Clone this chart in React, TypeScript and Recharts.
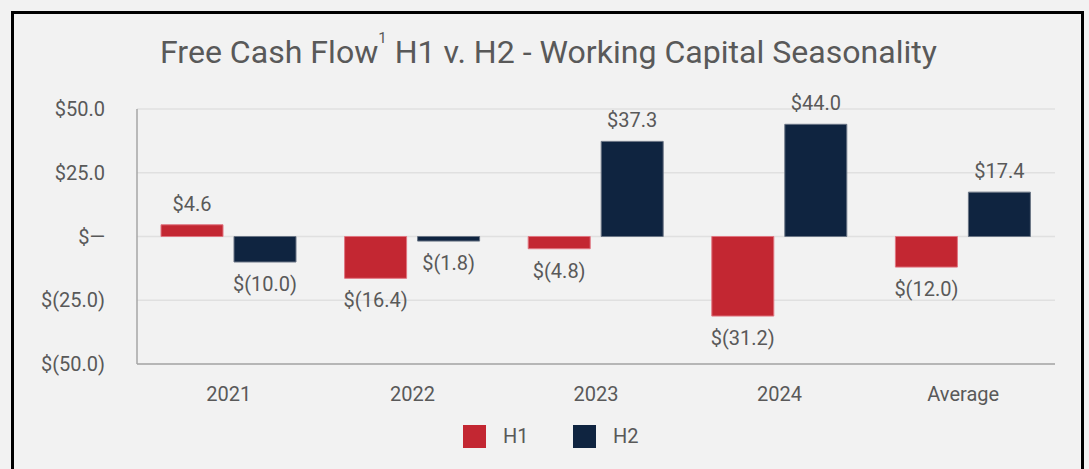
import React from "react";
import { BarChart, Bar, XAxis, YAxis, CartesianGrid, LabelList, Legend } from "recharts";

const categories = ["2021", "2022", "2023", "2024", "Average"];
const h1Values = [4.6, -16.4, -4.8, -31.2, -12.0];
const h2Values = [-10.0, -1.8, 37.3, 44.0, 17.4];
const yTicks = [-50, -25, 0, 25, 50];
const seriesNames = ["H1", "H2"];

const RED = "#c32732";
const NAVY = "#0f2440";
const GRAY = "#595959";
const FONT = "Roboto, 'Noto Sans', sans-serif";

const data = categories.map((c, i) => ({ name: c, H1: h1Values[i], H2: h2Values[i] }));

const fmt = (v: number) => {
  if (v === 0) return "$\u2014";
  const s = Math.abs(v).toFixed(1);
  return v < 0 ? `$(${s})` : `$${s}`;
};

const ValueLabel = (props: any) => {
  const { x, y, width, height, value } = props;
  const top = Math.min(y, y + height);
  const bottom = Math.max(y, y + height);
  const cx = x + width / 2;
  const ty = value >= 0 ? top - 14 : bottom + 29;
  return (
    <text x={cx} y={ty} textAnchor="middle" fill={GRAY} fontSize={20} fontFamily={FONT}>
      {fmt(value)}
    </text>
  );
};

const LegendContent = () => (
  <svg width={220} height={40}>
    <rect x={0} y={5} width={23} height={23} fill={RED} />
    <text x={40} y={23} fill={GRAY} fontSize={20} fontFamily={FONT}>{seriesNames[0]}</text>
    <rect x={110} y={5} width={23} height={23} fill={NAVY} />
    <text x={150} y={23} fill={GRAY} fontSize={20} fontFamily={FONT}>{seriesNames[1]}</text>
  </svg>
);

export default function App() {
  return (
    <div style={{ position: "fixed", left: 0, top: 0, width: 1089, height: 469, background: "#f2f2f2", overflow: "hidden" }}>
      <div
        style={{
          position: "absolute",
          left: 11,
          top: 11,
          width: 1073,
          height: 462,
          border: "3px solid #000",
          boxSizing: "border-box",
        }}
      />
      <svg width={1089} height={80} style={{ position: "absolute", left: 0, top: 0 }}>
        <text
          x={160}
          y={63}
          fill={GRAY}
          fontSize={32}
          fontFamily={FONT}
          textLength={777}
          lengthAdjust="spacingAndGlyphs"
        >
          Free Cash Flow
          <tspan fontSize={15} dy={-20}>1</tspan>
          <tspan dy={20}> H1 v. H2 - Working Capital Seasonality</tspan>
        </text>
      </svg>
      <div style={{ position: "absolute", left: 0, top: 0 }}>
        <BarChart
          width={1089}
          height={469}
          data={data}
          margin={{ top: 109, right: 34, left: 37, bottom: 75 }}
          barSize={62}
          barGap={11}
        >
          <CartesianGrid vertical={false} stroke="#e0e0e0" strokeWidth={1.5} />
          <XAxis
            dataKey="name"
            height={30}
            tickLine={false}
            tickSize={0}
            tickMargin={23}
            axisLine={{ stroke: "#a6a6a6", strokeWidth: 1.5 }}
            tick={{ fill: GRAY, fontSize: 20, fontFamily: FONT }}
          />
          <YAxis
            width={100}
            domain={[-50, 50]}
            ticks={yTicks}
            tickLine={false}
            tickSize={0}
            tickMargin={32}
            tickFormatter={fmt}
            axisLine={{ stroke: "#a6a6a6", strokeWidth: 1.5 }}
            tick={{ fill: GRAY, fontSize: 20, fontFamily: FONT }}
          />
          <Legend
            verticalAlign="middle"
            align="center"
            content={LegendContent}
            wrapperStyle={{ position: "absolute", left: 463, top: 420, width: 220, height: 40 }}
          />
          <Bar dataKey="H1" fill={RED} stroke="#e07580" strokeWidth={1} isAnimationActive={false}>
            <LabelList dataKey="H1" content={ValueLabel} />
          </Bar>
          <Bar dataKey="H2" fill={NAVY} stroke="#6a7585" strokeWidth={1} isAnimationActive={false}>
            <LabelList dataKey="H2" content={ValueLabel} />
          </Bar>
        </BarChart>
      </div>
    </div>
  );
}
